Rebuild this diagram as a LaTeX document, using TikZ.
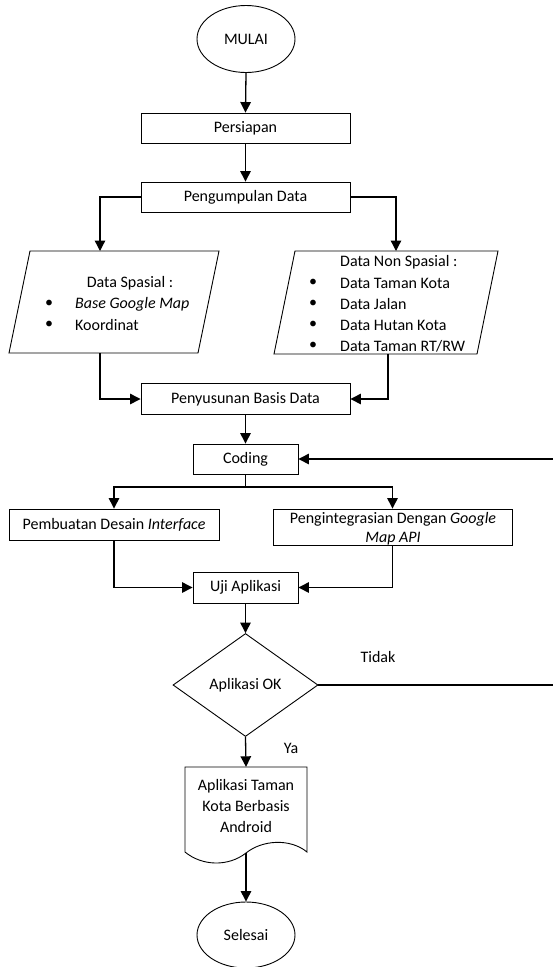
\documentclass[tikz,border=0pt]{standalone}
\usepackage{fontspec}
\setmainfont{Carlito}
\usetikzlibrary{shapes.geometric,arrows.meta,calc}
\begin{document}
\begin{tikzpicture}[x=1pt,y=-1pt,
  font=\fontsize{16}{21}\selectfont,
  shapeline/.style={draw=black, line width=0.9pt},
  procbox/.style={shapeline, rectangle, inner sep=0pt},
  term/.style={shapeline, ellipse, inner sep=0pt, minimum width=98pt, minimum height=67pt},
  decide/.style={shapeline, diamond, inner sep=0pt, minimum width=145pt, minimum height=103pt, aspect=1.4},
  ghost/.style={rectangle, inner sep=0pt},
  conn/.style={line width=1.3pt, -{Triangle[length=10.5pt,width=10.5pt]}},
  plain/.style={line width=1.3pt},
  lbl/.style={inner sep=0pt}
]
\useasboundingbox (0,0) rectangle (552,967);

% nodes
\node[term] (mulai) at (246,39) {MULAI};
\node[procbox, minimum width=209pt, minimum height=30pt] (persiapan) at (245.5,128) {Persiapan};
\node[procbox, minimum width=209pt, minimum height=30pt] (kumpul) at (245.5,197) {Pengumpulan Data};

% left parallelogram (Data Spasial)
\node[ghost, minimum width=210pt, minimum height=102pt] (spasial) at (114,302) {};
\draw[shapeline] (30,251) -- (219,251) -- (198,353) -- (9,353) -- cycle;
\node[lbl] (sp0) at (130,283) {Data Spasial :};
\node[lbl] (sp1b) at (49,304) {•};
\node[lbl, anchor=west] (sp1) at (75,304) {\textit{Base Google Map}};
\node[lbl] (sp2b) at (49,325) {•};
\node[lbl, anchor=west] (sp2) at (75,325) {Koordinat};

% right parallelogram (Data Non Spasial)
\node[ghost, minimum width=225pt, minimum height=103pt] (nonsp) at (385.5,302.5) {};
\draw[shapeline] (295,251) -- (498,251) -- (477,354) -- (274,354) -- cycle;
\node[lbl, anchor=west] (ns0) at (340,262) {Data Non Spasial :};
\node[lbl] (ns1b) at (313,283) {•};
\node[lbl, anchor=west] (ns1) at (340,283) {Data Taman Kota};
\node[lbl] (ns2b) at (313,304) {•};
\node[lbl, anchor=west] (ns2) at (340,304) {Data Jalan};
\node[lbl] (ns3b) at (313,325) {•};
\node[lbl, anchor=west] (ns3) at (340,325) {Data Hutan Kota};
\node[lbl] (ns4b) at (313,346) {•};
\node[lbl, anchor=west] (ns4) at (340,346) {Data Taman RT/RW};

\node[procbox, minimum width=209pt, minimum height=31pt] (susun) at (245.5,399) {Penyusunan Basis Data};
\node[procbox, minimum width=105pt, minimum height=30pt] (coding) at (245.5,459) {Coding};
\node[procbox, minimum width=210pt, minimum height=31pt] (desain) at (114,524.5) {Pembuatan Desain \textit{Interface}};
\node[procbox, minimum width=239pt, minimum height=36pt] (integ) at (392.5,527) {};
\node[lbl] (integt1) at (393,519) {Pengintegrasian Dengan \textit{Google}};
\node[lbl] (integt2) at (393,539) {\textit{Map API}};
\node[procbox, minimum width=105pt, minimum height=31pt] (uji) at (245.5,587.5) {Uji Aplikasi};
\node[decide] (ok) at (245.5,685) {Aplikasi OK};
\node[lbl] (tidak) at (378,657) {Tidak};
\node[lbl] (ya) at (291,748) {Ya};

% document shape
\node[ghost, minimum width=122pt, minimum height=86pt] (doc) at (246,810) {};
\draw[shapeline] (185,852) -- (185,767) -- (307,767) -- (307,852)
  .. controls (290,838) and (262,840) .. (246,853)
  .. controls (228,867) and (202,866) .. (185,852);
\node[lbl, align=center] (doct) at (246,806) {Aplikasi Taman\\Kota Berbasis\\Android};
\coordinate (docb) at (246,853);

\node[term, minimum height=66pt] (selesai) at (246,935) {Selesai};

% connectors
\draw[conn] (mulai.south) -- (persiapan.north);
\draw[conn] (persiapan.south) -- (kumpul.north);
\draw[conn] (kumpul.west) -| (100,251);
\draw[conn] (kumpul.east) -| (396,251);
\draw[conn] (100,353) |- (susun.west);
\draw[conn] (388,354) |- (susun.east);
\draw[conn] (susun.south) -- (coding.north);
\coordinate (split) at (245.5,487);
\draw[plain] (coding.south) -- (split);
\draw[conn] (split) -| (desain.north);
\draw[conn] (split) -| (integ.north);
\draw[conn] (desain.south) |- (uji.west);
\draw[conn] (integ.south) |- (uji.east);
\draw[conn] (uji.south) -- (ok.north);
\draw[conn] (ok.south) -- (doc.north);
\coordinate (loop) at (556,685);
\draw[conn] (ok.east) -- (loop) |- (coding.east);
\draw[conn] (docb) -- (selesai.north);
\end{tikzpicture}
\end{document}
